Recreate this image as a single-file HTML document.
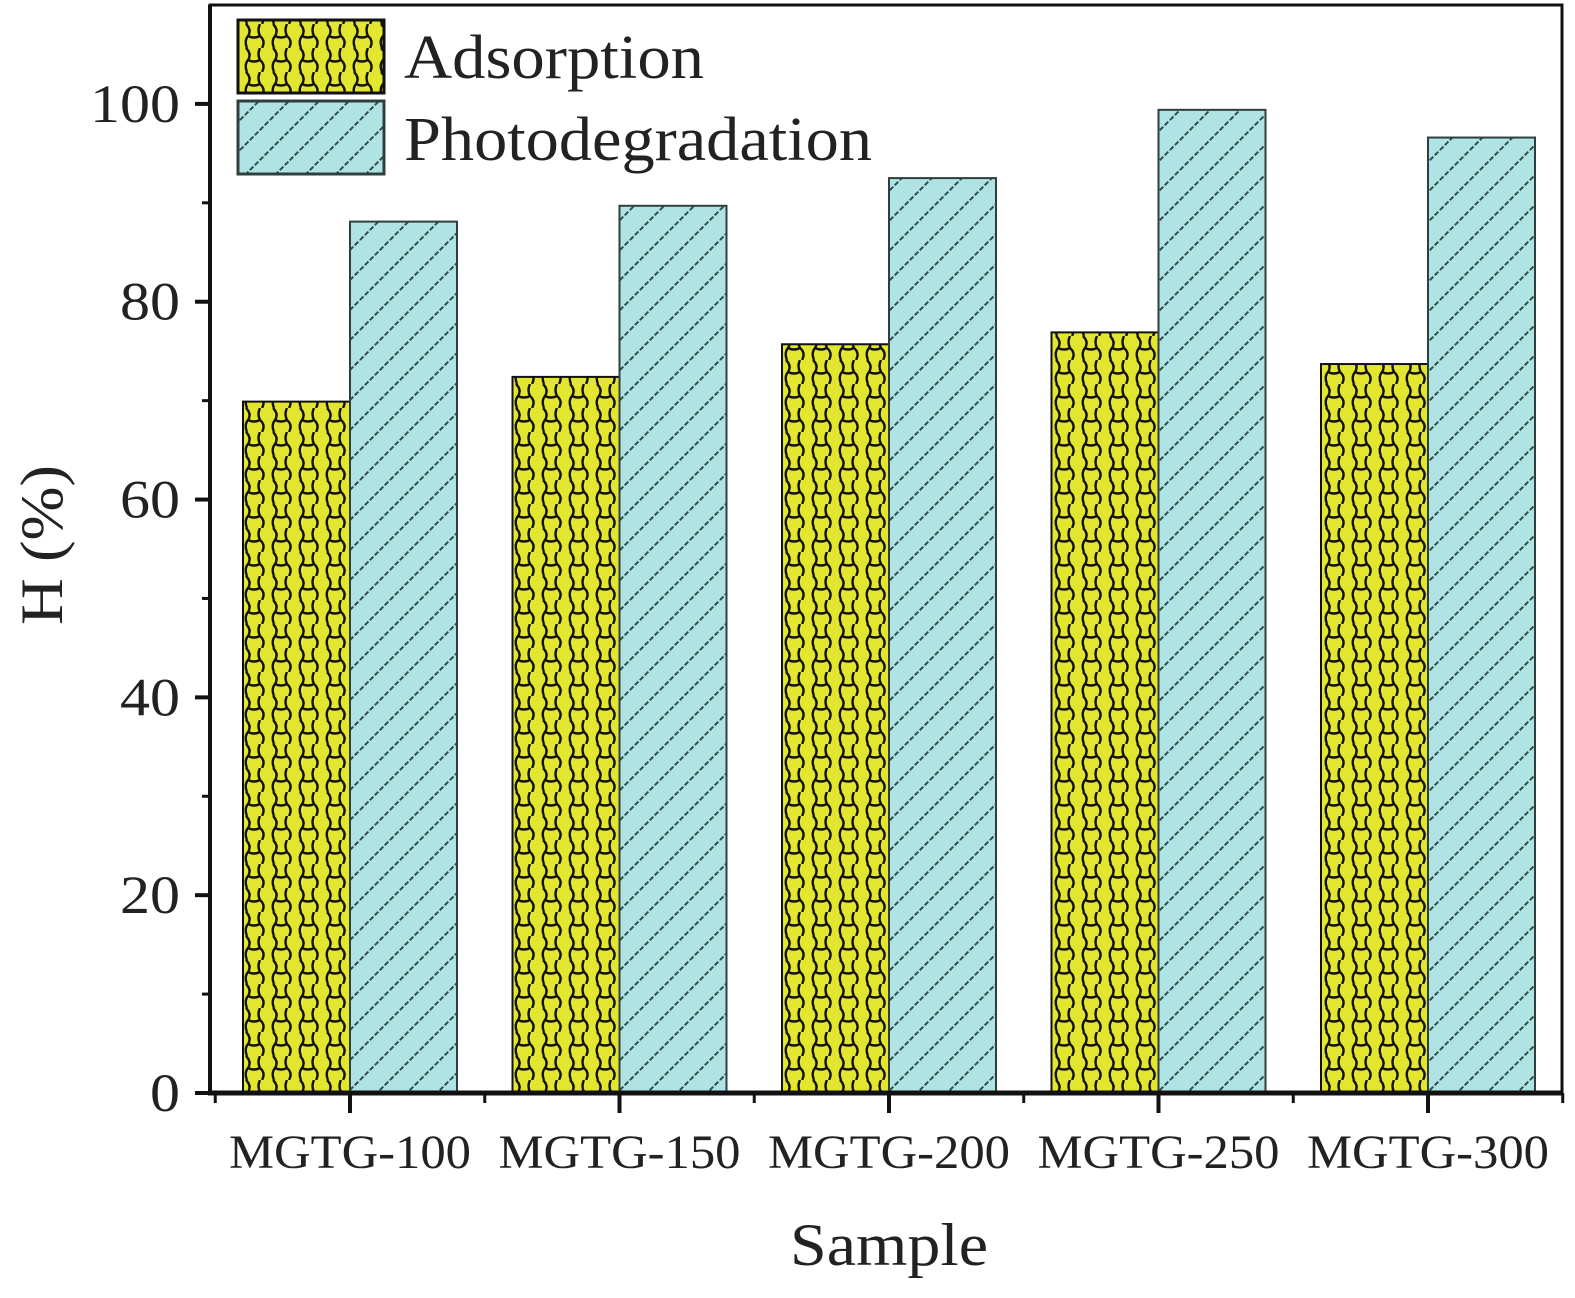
<!DOCTYPE html>
<html><head><meta charset="utf-8"><style>
html,body{margin:0;padding:0;background:#fff;}
svg{display:block;font-family:"Liberation Serif",serif;}
</style></head><body>
<svg id="chart" width="1575" height="1298" viewBox="0 0 1575 1298">
<defs>
<pattern id="weave" width="27" height="24" patternUnits="userSpaceOnUse">
<rect width="27" height="24" fill="#e3e62e"/>
<path d="M3 0 Q9 6 5 12 Q11 15 17 12 Q14 6 17 0 M17 12 Q23 17 19 24 M5 12 Q1 17 4 24" fill="none" stroke="#111" stroke-width="2.4"/>
</pattern>
<pattern id="hatch" width="30" height="30" patternUnits="userSpaceOnUse">
<rect width="30" height="30" fill="#b0e3e3"/>
<path d="M-5 35 L35 -5 M-5 5 L5 -5 M25 35 L35 25" stroke="#2f4f4f" stroke-width="2" stroke-dasharray="5 2"/>
</pattern>
</defs>
<g id="plot"></g>
</svg>
<script>
const categories = ["MGTG-100","MGTG-150","MGTG-200","MGTG-250","MGTG-300"];
const adsorption = [69.9, 72.4, 75.7, 76.9, 73.7];
const photodegradation = [88.1, 89.7, 92.5, 99.4, 96.6];
const yTicks = [0,20,40,60,80,100];
const yMinorTicks = [10,30,50,70,90];

const L=210,R=1562,T=5,B=1093;
const yMax=110;
function ys(v){return B-(v/yMax)*(B-T);}
const step=269.5;
function xs(i){return 350+i*step;}
const bw=107;
const NS="http://www.w3.org/2000/svg";
const g=document.getElementById('plot');
function el(t,a,p){const e=document.createElementNS(NS,t);for(const k in a)e.setAttribute(k,a[k]);(p||g).appendChild(e);return e;}

categories.forEach((c,i)=>{
  const a=el('rect',{x:xs(i)-bw,y:ys(adsorption[i]),width:bw,height:B-ys(adsorption[i]),fill:'url(#weave)',stroke:'#111','stroke-width':2});
  
  
  const p=el('rect',{x:xs(i),y:ys(photodegradation[i]),width:bw,height:B-ys(photodegradation[i]),fill:'url(#hatch)',stroke:'#2f3f3f','stroke-width':2});
  
  
  const t=el('text',{x:xs(i)-121,y:1168,'font-size':48,fill:'#222',textLength:242,lengthAdjust:'spacingAndGlyphs'});
  t.textContent=c;
  
  
  el('line',{x1:xs(i),x2:xs(i),y1:B,y2:B+20,stroke:'#111','stroke-width':4});
  el('line',{x1:xs(i)+step/2,x2:xs(i)+step/2,y1:B,y2:B+10,stroke:'#111','stroke-width':3});
});
el('line',{x1:xs(0)-step/2,x2:xs(0)-step/2,y1:B,y2:B+10,stroke:'#111','stroke-width':3});

yTicks.forEach(v=>{
  el('line',{x1:L-15,x2:L,y1:ys(v),y2:ys(v),stroke:'#111','stroke-width':4});
  const w=String(v).length*30;
  const t=el('text',{x:L-30-w,y:ys(v)+18,'font-size':54,fill:'#222',textLength:w,lengthAdjust:'spacingAndGlyphs'});
  t.textContent=v;
  
  
});
yMinorTicks.forEach(v=>el('line',{x1:L-8,x2:L,y1:ys(v),y2:ys(v),stroke:'#111','stroke-width':3}));

const frame=el('rect',{x:L,y:T,width:R-L,height:B-T,fill:'none',stroke:'#111','stroke-width':3});


el('line',{x1:L,x2:L,y1:T,y2:B+2,stroke:'#111','stroke-width':4});
el('line',{x1:L-2,x2:R,y1:B,y2:B,stroke:'#111','stroke-width':5});

const xt=el('text',{x:790,y:1265,'font-size':60,fill:'#222',textLength:198,lengthAdjust:'spacingAndGlyphs'});
xt.textContent='Sample';


const yt=el('text',{x:-80,y:0,'font-size':60,fill:'#222',textLength:160,lengthAdjust:'spacingAndGlyphs',transform:'translate(62,545) rotate(-90)'});
yt.textContent='H (%)';



const lg=el('g',{});


const e1=el('rect',{x:238,y:20,width:146,height:73,fill:'url(#weave)',stroke:'#111','stroke-width':3},lg);


const e2=el('rect',{x:238,y:101,width:146,height:73,fill:'url(#hatch)',stroke:'#2f3f3f','stroke-width':3},lg);


const l1=el('text',{x:404,y:78,'font-size':62,fill:'#222',textLength:300,lengthAdjust:'spacingAndGlyphs'},lg);
l1.textContent='Adsorption';


const l2=el('text',{x:404,y:160,'font-size':62,fill:'#222',textLength:468,lengthAdjust:'spacingAndGlyphs'},lg);
l2.textContent='Photodegradation';


</script>
</body></html>
